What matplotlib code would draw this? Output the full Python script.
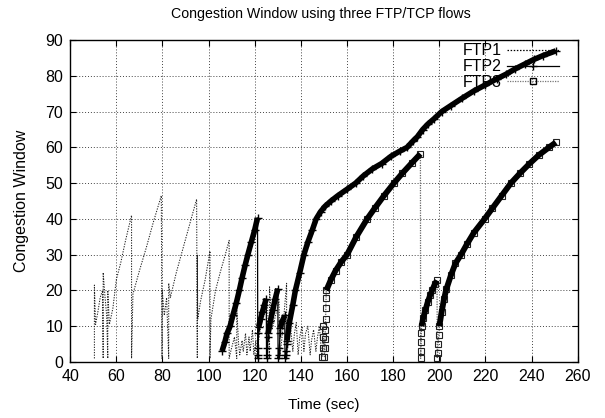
import numpy as np
import matplotlib.pyplot as plt
from matplotlib.lines import Line2D

plt.rcParams["font.family"] = ["Liberation Sans", "DejaVu Sans"]

# FTP1: sawtooth cwnd trace (time, window)
ftp1_t = [50.5, 50.5, 51.0, 52.0, 53.0, 54.0, 54.3, 54.3, 55.0, 55.8, 56.3, 56.3, 57.0, 58.5, 60.0, 62.0, 64.0, 66.6,
          66.6, 67.2, 70.0, 73.0, 76.0, 79.5,
          79.8, 79.9, 80.8, 81.8, 82.7, 82.7, 83.4, 86.0, 89.0, 92.0, 94.8,
          95.1, 95.1, 95.3, 96.5, 98.5, 100.6,
          100.6, 101.0, 103.0, 105.0, 107.0, 108.9,
          108.9, 109.6, 110.4, 111.2, 112.2, 112.2, 113.0, 113.5, 114.5, 115.0, 116.0, 116.6, 117.5, 118.0, 119.0, 119.6, 120.5, 121.0,
          122.0, 123.5, 124.5, 125.5, 126.4, 126.4, 127.5, 129.0, 130.5, 131.0, 132.0, 133.8,
          133.8, 134.5, 135.5, 136.5, 137.2, 138.0, 138.8, 139.5, 140.5, 141.3, 142.0, 143.0, 144.0, 144.6, 145.5, 146.5, 147.2, 148.0, 149.0]
ftp1_v = [1, 21.5, 10.5, 14, 18, 20, 1, 25, 19, 13, 1, 20, 10.5, 15, 23, 28, 34, 41,
          1, 19, 25.5, 32, 39, 46.5,
          1, 20, 13, 18, 1, 22, 18, 25, 32, 39, 45.5,
          1, 30, 12, 17, 23, 31,
          1, 12, 20, 25, 29.5, 34,
          1, 3, 5, 7, 1, 15, 5, 2, 6, 3, 8, 2, 7, 3, 9, 2, 6, 1,
          8, 12, 14, 16, 1, 21, 9, 13, 17, 2, 8, 22,
          1, 6, 10, 3, 8, 11, 2, 7, 10, 3, 8, 10, 2, 6, 9, 3, 7, 10, 2]

# FTP2: growth phases and slow-start restarts
ftp2_a_t = [105.8, 107.0, 108.0, 109.3, 110.5, 112.0, 113.3, 114.5, 115.8, 117.0, 118.5, 120.0, 121.2]
ftp2_a_v = [3, 5.5, 8, 10, 13, 16.5, 20, 23.5, 27, 30, 33.5, 37, 40.3]
ftp2_ss1_t = [121.3, 121.4, 121.5, 121.6]
ftp2_ss1_v = [1, 2, 4, 8]
ftp2_b_t = [121.7, 122.5, 123.3, 124.2, 125.0]
ftp2_b_v = [9.8, 12, 14, 16, 17.7]
ftp2_ss2_t = [125.1, 125.3, 125.5, 125.7]
ftp2_ss2_v = [1, 2, 4, 7]
ftp2_c_t = [125.8, 126.8, 127.8, 128.8, 130.0]
ftp2_c_v = [8, 11.5, 14.5, 17.5, 20.5]
ftp2_ss3_t = [130.1, 130.4, 130.7, 130.9]
ftp2_ss3_v = [1, 2, 4, 8]
ftp2_d_t = [131.0, 132.0, 133.0]
ftp2_d_v = [9.5, 11.5, 13]
ftp2_ss4_t = [133.1, 133.4, 133.7, 133.9]
ftp2_ss4_v = [1, 2, 3, 5]
ftp2_e_t = [134.0, 135.0, 136.5, 137.6, 139.5, 141.3, 143.0, 145.0, 146.6, 148.5,
            150.4, 153.0, 156.0, 160.0, 163.7, 167.0, 171.0, 175.0, 179.0, 183.0,
            186.0, 188.6, 190.5, 192.8, 195.0, 197.7, 201.0, 205.0, 210.0, 215.0,
            220.0, 225.0, 229.0, 233.0, 237.0, 241.0, 245.0, 250.5]
ftp2_e_v = [6, 11, 16, 20, 25, 30, 33.5, 37, 40, 42,
            43.5, 45, 46.5, 48.3, 50, 52, 54, 55.5, 57.5, 59,
            60, 61.8, 63, 65, 66.5, 68, 70, 71.7, 73.8, 75.8,
            77.5, 79.2, 80.5, 82, 83.3, 84.6, 85.7, 87]

# FTP3
ftp3_ss1_t = [149.3, 149.5, 149.6, 149.7, 150.2, 150.4, 150.5, 150.6, 150.7, 150.8, 150.9]
ftp3_ss1_v = [1.5, 4, 7, 10, 1.5, 4, 6.5, 9, 12, 15, 18]
ftp3_r1_t = [151.0, 153.0, 155.0, 157.5, 160.0, 164.0, 168.7, 172.0, 176.0, 180.3, 184.0, 188.0, 191.8]
ftp3_r1_v = [20, 23, 25.5, 28, 30, 35, 40, 43, 46.5, 50, 52.8, 55.6, 58.2]
ftp3_ss2_t = [191.9, 192.0, 192.1, 192.2]
ftp3_ss2_v = [1, 3, 5.5, 8]
ftp3_r2_t = [192.3, 193.0, 194.0, 195.0, 196.0, 197.0, 198.0, 199.0]
ftp3_r2_v = [10, 12.3, 14.6, 16.8, 18.6, 20.2, 21.7, 22.8]
ftp3_ss3_t = [199.1, 199.3, 199.5, 199.7]
ftp3_ss3_v = [1, 2.5, 5, 7.5]
ftp3_r3_t = [200.0, 201.0, 202.0, 203.0, 205.0, 207.0, 209.4, 212.0, 215.0, 219.6,
             223.0, 227.0, 231.0, 235.0, 239.0, 243.0, 247.5, 250.5]
ftp3_r3_v = [10, 14, 17.5, 20.3, 24.2, 27.6, 30, 33, 36.2, 40,
             43, 46.5, 50, 52.8, 55.4, 57.8, 60, 61.4]

x_ticks = list(range(40, 261, 20))
y_ticks = list(range(0, 91, 10))

fig = plt.figure(figsize=(6.05, 4.18), dpi=100)
ax = fig.add_axes([0.116, 0.134, 0.839, 0.770])

dot = (0, (1.2, 1.3))

# FTP1
ax.plot(ftp1_t, ftp1_v, color="#222222", lw=0.75, ls=dot, zorder=3)

# FTP2: thin connecting trace with + marks, thick growth bands
ftp2_all_t = (ftp2_a_t + ftp2_ss1_t + ftp2_b_t + ftp2_ss2_t + ftp2_c_t
              + ftp2_ss3_t + ftp2_d_t + ftp2_ss4_t + ftp2_e_t)
ftp2_all_v = (ftp2_a_v + ftp2_ss1_v + ftp2_b_v + ftp2_ss2_v + ftp2_c_v
              + ftp2_ss3_v + ftp2_d_v + ftp2_ss4_v + ftp2_e_v)
ax.plot(ftp2_all_t, ftp2_all_v, color="black", lw=0.9, marker="+", ms=6, mew=1.0, zorder=4)
for st, sv in [(ftp2_a_t, ftp2_a_v), (ftp2_b_t, ftp2_b_v), (ftp2_c_t, ftp2_c_v),
               (ftp2_d_t, ftp2_d_v), (ftp2_e_t, ftp2_e_v)]:
    ax.plot(st, sv, color="black", lw=4.0, solid_capstyle="butt", zorder=5)

# FTP3
ftp3_all_t = ftp3_ss1_t + ftp3_r1_t + ftp3_ss2_t + ftp3_r2_t + ftp3_ss3_t + ftp3_r3_t
ftp3_all_v = ftp3_ss1_v + ftp3_r1_v + ftp3_ss2_v + ftp3_r2_v + ftp3_ss3_v + ftp3_r3_v
ax.plot(ftp3_all_t, ftp3_all_v, color="#666666", lw=0.9, ls=(0, (1, 1)),
        marker="s", ms=4, mfc="none", mec="#222222", mew=0.8, zorder=4)
for st, sv in [(ftp3_r1_t, ftp3_r1_v), (ftp3_r2_t, ftp3_r2_v), (ftp3_r3_t, ftp3_r3_v)]:
    ax.plot(st, sv, color="black", lw=4.2, solid_capstyle="butt", zorder=5)

ax.set_xlim(40, 260)
ax.set_ylim(0, 90)
ax.set_xticks(x_ticks)
ax.set_yticks(y_ticks)
ax.grid(True, color="#444444", ls=(0, (1, 2)), lw=0.7)
ax.set_axisbelow(True)
ax.tick_params(direction="in", top=True, right=True, length=4, labelsize=11.5, pad=5)
for sp in ax.spines.values():
    sp.set_linewidth(1.0)

fig.text(0.53, 0.966, "Congestion Window using three FTP/TCP flows",
         fontsize=10.2, ha="center", va="center")
ax.set_xlabel("Time (sec)", fontsize=11, labelpad=10)
ax.set_ylabel("Congestion Window", fontsize=11.5, labelpad=12)

handles = [
    Line2D([], [], color="black", lw=0.9, ls=dot),
    Line2D([], [], color="black", lw=0.9, marker="+", ms=6),
    Line2D([], [], color="#777777", lw=0.9, ls=(0, (1, 1)), marker="s", ms=4, mfc="none", mec="black"),
]
leg = ax.legend(handles, ["FTP1", "FTP2", "FTP3"], loc="upper right", frameon=False,
                markerfirst=False, handlelength=3.3, fontsize=11.5, labelspacing=0.05,
                handletextpad=0.3, borderaxespad=0.0, borderpad=0.2,
                bbox_to_anchor=(0.97, 1.0))
leg.set_zorder(2)

fig.savefig("out.png", dpi=100)
plt.close(fig)
